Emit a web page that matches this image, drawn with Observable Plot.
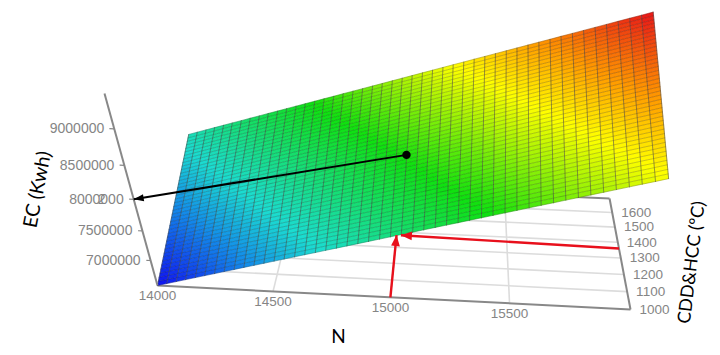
<!DOCTYPE html>
<html>
<head>
<meta charset="utf-8">
<script src="https://cdn.jsdelivr.net/npm/d3@7"></script>
<script src="https://cdn.jsdelivr.net/npm/@observablehq/plot@0.6"></script>
<style>html,body{margin:0;padding:0;background:#fff}svg{display:block}</style>
</head>
<body>
<div id="chart"></div>
<script>
// Axis ticks
const nTicks = [14000, 14500, 15000, 15500];
const cddTicks = [1000, 1100, 1200, 1300, 1400, 1500, 1600];
const ecTicks = [7000000, 7500000, 8000000, 8500000, 9000000];
// Axis ranges
const nRange = [14000, 16000];
const cddRange = [1000, 1700];
const ecRange = [6550000, 9450000];
// Surface mesh
const meshN = [14000,14043,14087,14130,14174,14217,14261,14304,14348,14391,14435,14478,14522,14565,14609,14652,14696,14739,14783,14826,14870,14913,14957,15000,15043,15087,15130,15174,15217,15261,15304,15348,15391,15435,15478,15522,15565,15609,15652,15696,15739,15783,15826,15870,15913,15957,16000];
const meshCDD = [1000,1018,1035,1053,1070,1088,1105,1123,1140,1158,1175,1193,1210,1228,1245,1263,1280,1298,1315,1333,1350,1368,1385,1403,1420,1438,1455,1473,1490,1508,1525,1543,1560,1578,1595,1613,1630,1648,1665,1683,1700];
// EC rise (thousand kWh) along each mesh direction, read from the surface
const ecAlongN = [0,45,91,136,182,227,272,318,363,409,454,499,545,590,636,681,726,772,817,862,908,953,999,1044,1089,1135,1180,1226,1271,1316,1362,1407,1452,1498,1543,1589,1634,1679,1725,1770,1815,1861,1906,1952,1997,2042,2088];
const ecAlongCDD = [0,21,42,62,83,104,125,146,166,187,208,229,250,270,291,312,333,354,374,395,416,437,458,478,499,520,541,562,582,603,624,645,666,686,707,728,749,770,790,811,832];
// Colour ramp
const rampEC = [6550000, 7000000, 7300000, 8000000, 8650000, 9000000, 9450000];
const rampColors = ["#1010f0", "#1490e8", "#1cdcd0", "#10e010", "#ffff00", "#ff9a00", "#e81818"];
// Operating point
const opN = 15000, opCDD = 1380, opStartCDD = 1360;
const dotPoint = [15040, 1370, 7950000];
const ecTarget = [14000, 1000, 8000000];

// 3-D to page projection (homogeneous camera)
function project(n, c, e) {
  const u = (n - nRange[0]) / (nRange[1] - nRange[0]);
  const v = (c - cddRange[0]) / (cddRange[1] - cddRange[0]);
  const w = (e - ecRange[0]) / (ecRange[1] - ecRange[0]);
  const den = 1 - 0.03 * u + 0.148 * v - 0.185 * w;
  return [(157 + 454.1 * u + 69.8 * v - 72.24 * w) / den,
          (285 + 14.7 * u - 78.3 * v - 209.2 * w) / den];
}
const E0 = ecRange[0];
const surfaceEC = (i, j) => E0 + (ecAlongN[i] + ecAlongCDD[j]) * 1000;
const P = (i, j) => project(meshN[i], meshCDD[j], surfaceEC(i, j));

const cells = [], rowLines = [], colLines = [];
meshN.slice(1).forEach((_, i) => meshCDD.slice(1).forEach((_, j) => {
  const id = i + "-" + j;
  const ec = (surfaceEC(i, j) + surfaceEC(i + 1, j + 1)) / 2;
  [[i, j], [i + 1, j], [i + 1, j + 1], [i, j + 1], [i, j]].forEach(([a, b]) => {
    const p = P(a, b);
    cells.push({id, ec, x: p[0], y: p[1]});
  });
}));
meshN.forEach((_, i) => meshCDD.forEach((_, j) => {
  const p = P(i, j);
  rowLines.push({k: j, x: p[0], y: p[1]});
  colLines.push({k: i, x: p[0], y: p[1]});
}));

const seg = (a, b) => { const s = project(...a), t = project(...b); return {x1: s[0], y1: s[1], x2: t[0], y2: t[1]}; };
const [n0, n1] = nRange, [c0, c1] = cddRange;
const gridSegs = [
  ...nTicks.slice(1).map(n => seg([n, c0, E0], [n, c1, E0])),
  ...cddTicks.slice(1).map(c => seg([n0, c, E0], [n1, c, E0]))
];
const axisSegs = [
  seg([n0, c0, E0], [n1, c0, E0]),
  seg([n1, c0, E0], [n1, c1, E0]),
  seg([n0, c1, E0], [n1, c1, E0])
];
const zAxis = [seg([n0, c0, E0], [n0, c0, ecRange[1]])];
const zTicks = ecTicks.map(e => seg([n0 - 18, c0, e], [n0, c0, e]));
const redArrows = [
  seg([opN, c0, E0], [opN, opCDD, E0]),
  seg([n1, opStartCDD, E0], [opN + 20, opCDD, E0])
];
const blackArrows = [seg(dotPoint, ecTarget)];
const angle = d => Math.atan2(d.x2 - d.x1, d.y1 - d.y2) * 180 / Math.PI;

const nLabels = nTicks.map(n => { const p = project(n, c0, E0); return {t: String(n), x: p[0], y: p[1]}; });
const cddLabels = cddTicks.map(c => { const p = project(n1, c, E0); return {t: String(c), x: p[0], y: p[1]}; });
const ecLabels = ecTicks.map(e => { const p = project(n0, c0, e); return {t: String(e), x: p[0], y: p[1]}; });
const dot = project(...dotPoint);

const gray = "#858585", label = "Liberation Sans, Arial, sans-serif", hand = "Lato, sans-serif";

const chart = Plot.plot({
  width: 720, height: 355,
  margin: 0,
  x: {axis: null, domain: [0, 720], range: [0, 720]},
  y: {axis: null, domain: [0, 355], range: [0, 355]},
  color: {type: "linear", domain: rampEC, range: rampColors},
  style: {background: "#fff", overflow: "visible"},
  marks: [
    Plot.link(gridSegs, {x1: "x1", y1: "y1", x2: "x2", y2: "y2", stroke: "#dcdcdc", strokeWidth: 1.6}),
    Plot.link(axisSegs, {x1: "x1", y1: "y1", x2: "x2", y2: "y2", stroke: "#888", strokeWidth: 2}),
    Plot.line(cells, {x: "x", y: "y", z: "id", fill: "ec", stroke: "ec", strokeWidth: 0.4, curve: "linear"}),
    Plot.line(rowLines, {x: "x", y: "y", z: "k", stroke: "#000", strokeOpacity: 0.3, strokeWidth: 0.7}),
    Plot.line(colLines, {x: "x", y: "y", z: "k", stroke: "#444", strokeOpacity: 0.55, strokeWidth: 1}),
    Plot.link(zAxis, {x1: "x1", y1: "y1", x2: "x2", y2: "y2", stroke: "#888", strokeWidth: 2}),
    Plot.link(zTicks, {x1: "x1", y1: "y1", x2: "x2", y2: "y2", stroke: "#888", strokeWidth: 1.2}),
    Plot.link(redArrows, {x1: "x1", y1: "y1", x2: "x2", y2: "y2", stroke: "#e8101c", strokeWidth: 2.4}),
    Plot.vector(redArrows, {x: "x2", y: "y2", rotate: angle, length: 11, r: 4.4, shape: "spike", anchor: "end", fill: "#e8101c", stroke: "none"}),
    Plot.link(blackArrows, {x1: "x1", y1: "y1", x2: "x2", y2: "y2", stroke: "#000", strokeWidth: 2}),
    Plot.vector(blackArrows, {x: "x2", y: "y2", rotate: angle, length: 10, r: 3.6, shape: "spike", anchor: "end", fill: "#000", stroke: "none"}),
    Plot.dot([{x: dot[0], y: dot[1]}], {x: "x", y: "y", r: 4.2, fill: "#000", stroke: "none"}),
    Plot.text(nLabels, {x: "x", y: "y", text: "t", dy: 10, fontSize: 13.5, fontFamily: label, fill: gray}),
    Plot.text(cddLabels, {x: "x", y: "y", text: "t", dx: 9, textAnchor: "start", fontSize: 13.5, fontFamily: label, fill: gray}),
    Plot.text(ecLabels, {x: "x", y: "y", text: "t", dx: -10, textAnchor: "end", fontSize: 14, fontFamily: label, fill: gray}),
    Plot.text(ecLabels.filter(d => d.t === "8000000"), {x: "x", y: "y", text: () => "2", dx: -32, fontSize: 14, fontFamily: label, fill: gray}),
    Plot.text([{x: 37, y: 189, t: "EC (Kwh)"}], {x: "x", y: "y", text: "t", rotate: -79, fontSize: 19.5, fontFamily: hand, fill: "#000"}),
    Plot.text([{x: 338, y: 336, t: "N"}], {x: "x", y: "y", text: "t", fontSize: 19, fontFamily: hand, fill: "#000"}),
    Plot.text([{x: 691, y: 262, t: "CDD&HCC (ºC)"}], {x: "x", y: "y", text: "t", rotate: -83, fontSize: 18, fontFamily: hand, fill: "#000"})
  ]
});
document.getElementById("chart").append(chart);
</script>
</body>
</html>
